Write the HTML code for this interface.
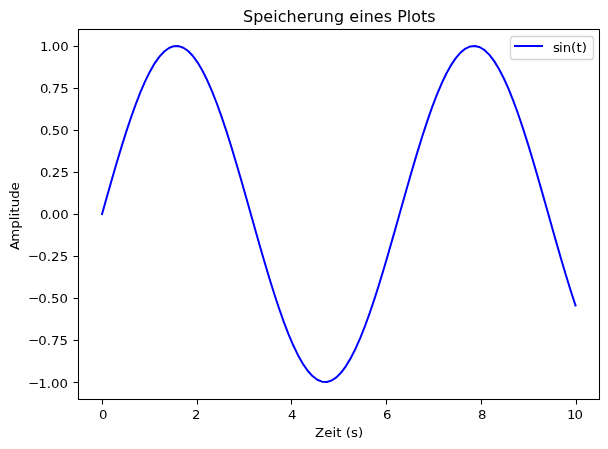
<!DOCTYPE html>
<html lang="de">
<head>
<meta charset="utf-8">
<title>Speicherung eines Plots</title>
<style>
html,body{margin:0;padding:0;background:#fff;overflow:hidden}
svg{display:block;position:absolute;left:0;top:0}
text{font-family:"DejaVu Sans","Liberation Sans",sans-serif;fill:#000;text-anchor:start}
.t10{font-size:13.3333px}
.t12{font-size:16px}
.sp{fill:none;stroke:#000;stroke-width:1.0667;stroke-linecap:square}
.tk{fill:none;stroke:#000;stroke-width:1.0667;stroke-linecap:butt}
.ln{fill:none;stroke:#00f;stroke-width:2;stroke-linecap:square;stroke-linejoin:round}
</style>
</head>
<body>
<svg width="608" height="449" viewBox="0 0 608 449">
<rect x="0" y="0" width="608" height="449" fill="#fff"/>
<g class="tk">
<line x1="102.5" y1="399.5" x2="102.5" y2="404.5"/>
<line x1="197.5" y1="399.5" x2="197.5" y2="404.5"/>
<line x1="291.5" y1="399.5" x2="291.5" y2="404.5"/>
<line x1="386.5" y1="399.5" x2="386.5" y2="404.5"/>
<line x1="481.5" y1="399.5" x2="481.5" y2="404.5"/>
<line x1="576.5" y1="399.5" x2="576.5" y2="404.5"/>
<line x1="78.5" y1="382.5" x2="73.5" y2="382.5"/>
<line x1="78.5" y1="340.5" x2="73.5" y2="340.5"/>
<line x1="78.5" y1="298.5" x2="73.5" y2="298.5"/>
<line x1="78.5" y1="256.5" x2="73.5" y2="256.5"/>
<line x1="78.5" y1="214.5" x2="73.5" y2="214.5"/>
<line x1="78.5" y1="172.5" x2="73.5" y2="172.5"/>
<line x1="78.5" y1="130.5" x2="73.5" y2="130.5"/>
<line x1="78.5" y1="88.5" x2="73.5" y2="88.5"/>
<line x1="78.5" y1="46.5" x2="73.5" y2="46.5"/>
</g>
<text class="t10" transform="translate(98.954 418.517) scale(1 0.95)" x="0" y="0">0</text>
<text class="t10" transform="translate(191.957 418.517) scale(1 0.905)" x="0" y="0">2</text>
<text class="t10" transform="translate(287.898 418.517) scale(1 0.91)" x="0.125" y="0">4</text>
<text class="t10" transform="translate(382.902 418.517) scale(1 0.88)" x="0" y="0">6</text>
<text class="t10" transform="translate(477.905 418.517) scale(1 0.9)" x="0" y="0">8</text>
<text class="t10" transform="translate(566.159 418.517) scale(1 0.91)" x="0.75 8.25" y="0">10</text>
<text class="t10" transform="translate(26.948 387.547) scale(1 0.86)" x="1.25 11.25 19.75 24 32.5" y="-0.6 0 0 0 0">−1.00</text>
<text class="t10" transform="translate(26.948 344.527) scale(1 0.855)" x="1.25 11.25 19.75 24 32.5" y="-0.6 0 0 0 0">−0.75</text>
<text class="t10" transform="translate(26.948 302.508) scale(1 0.86)" x="1.25 11.25 19.75 24 32.5" y="-0.6 0 0 0 0">−0.50</text>
<text class="t10" transform="translate(27.073 260.551) scale(1 0.905)" x="0.625 11.25 19.75 24 32.625" y="-0.6 0 0 0 0">−0.25</text>
<text class="t10" transform="translate(39.198 218.531) scale(1 0.95)" x="0.75 8.25 12.5 21" y="0">0.00</text>
<text class="t10" transform="translate(39.198 176.512) scale(1 0.95)" x="0.75 8.25 12.5 21.375" y="0">0.25</text>
<text class="t10" transform="translate(39.198 134.555) scale(1 0.95)" x="0.75 8.25 12.5 21" y="0">0.50</text>
<text class="t10" transform="translate(39.198 92.536) scale(1 0.95)" x="0.75 8.25 12.5 21" y="0">0.75</text>
<text class="t10" transform="translate(39.198 50.516) scale(1 0.91)" x="0.75 8.25 12.5 21" y="0">1.00</text>
<text class="t10" transform="translate(314.994 436.505) scale(1 0.96)" x="0 9.25 17.5 21.25 26.625 30.875 36.125 43" y="0">Zeit (s)</text>
<text class="t10" transform="translate(19.356 250.877) rotate(-90) scale(1 0.945)" x="0.875 9.25 22.25 30.75 34.5 38.25 43.625 52.125 60.375" y="0">Amplitude</text>
<text class="t12" transform="translate(243.056 21.578) scale(1 0.97)" x="0 10.125 20.125 30.25 34.75 43.5 53.75 63.625 70.375 80.625 90.875 101.125 106.25 116.125 120.625 130.625 140.75 149 154.125 163.75 168.25 178 184.25" y="0">Speicherung eines Plots</text>
<clipPath id="axclip"><rect x="78.5" y="29.5" width="521" height="370"/></clipPath>
<polyline class="ln" clip-path="url(#axclip)" points="102.05,213.98 106.84,197.03 111.62,180.26 116.40,163.83 121.18,147.91 125.97,132.66 130.75,118.24 135.53,104.80 140.31,92.47 145.10,81.38 149.88,71.64 154.66,63.35 159.44,56.60 164.22,51.45 169.01,47.96 173.79,46.17 178.57,46.08 183.35,47.70 188.14,51.02 192.92,56.00 197.70,62.59 202.48,70.73 207.27,80.32 212.05,91.28 216.83,103.49 221.61,116.83 226.40,131.15 231.18,146.32 235.96,162.18 240.74,178.57 245.53,195.32 250.31,212.26 255.09,229.21 259.87,246.01 264.65,262.49 269.44,278.47 274.22,293.79 279.00,308.30 283.78,321.85 288.57,334.30 293.35,345.52 298.13,355.40 302.91,363.84 307.70,370.75 312.48,376.06 317.26,379.72 322.04,381.70 326.83,381.96 331.61,380.51 336.39,377.36 341.17,372.54 345.95,366.11 350.74,358.13 355.52,348.68 360.30,337.86 365.08,325.77 369.87,312.55 374.65,298.31 379.43,283.22 384.21,267.43 389.00,251.09 393.78,234.37 398.56,217.44 403.34,200.48 408.13,183.65 412.91,167.14 417.69,151.10 422.47,135.70 427.26,121.10 432.04,107.45 436.82,94.88 441.60,83.53 446.38,73.51 451.17,64.92 455.95,57.85 460.73,52.37 465.51,48.54 470.30,46.39 475.08,45.96 479.86,47.23 484.64,50.21 489.43,54.86 494.21,61.13 498.99,68.95 503.77,78.26 508.56,88.95 513.34,100.91 518.12,114.03 522.90,128.16 527.68,143.17 532.47,158.90 537.25,175.20 542.03,191.89 546.81,208.80 551.60,225.77 556.38,242.61 561.16,259.17 565.94,275.26 570.73,290.73 575.51,305.42"/>
<rect class="sp" x="78.5" y="29.5" width="521" height="370"/>
<rect x="510.5" y="36.5" width="83" height="23" rx="2.67" ry="2.67" fill="#fff" fill-opacity="0.8" stroke="#ccc" stroke-opacity="0.8" stroke-width="1.3333"/>
<line class="ln" x1="515" y1="46" x2="542" y2="46"/>
<text class="t10" transform="translate(552.1 51.521) scale(1 0.975)" x="0.875 6.875 10.625 18.875 24.375 29.75" y="0">sin(t)</text>
</svg>
</body>
</html>
